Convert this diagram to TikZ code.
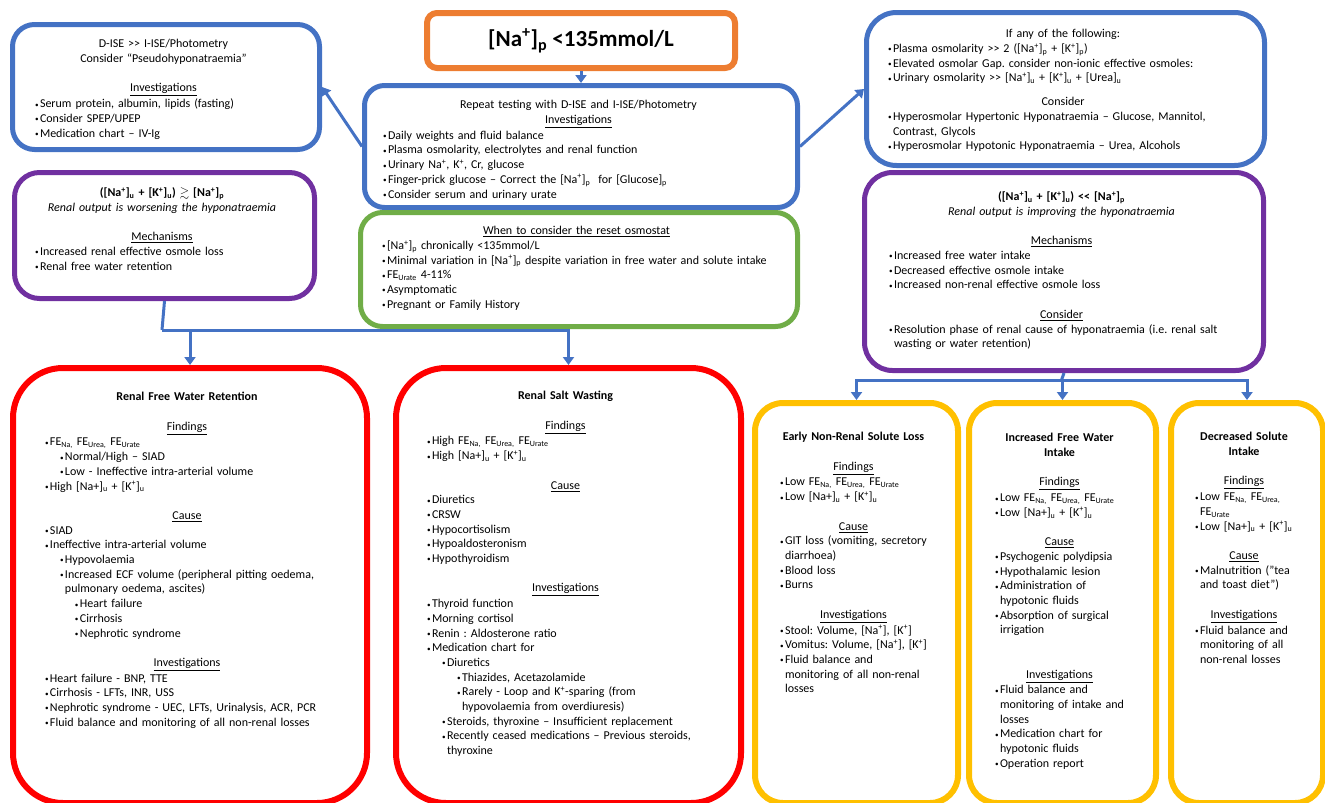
\documentclass[tikz,border=0pt]{standalone}
\usepackage{fontspec}
\setmainfont{Carlito}
\usepackage{amssymb}
\usepackage{graphicx}
\usetikzlibrary{arrows.meta}
\definecolor{boxblue}{HTML}{4472C4}
\definecolor{boxorange}{HTML}{ED7D31}
\definecolor{boxpurple}{HTML}{7030A0}
\definecolor{boxgreen}{HTML}{70AD47}
\definecolor{boxred}{HTML}{FF0000}
\definecolor{boxyellow}{HTML}{FFC000}
\newcommand{\sod}{[Na\textsuperscript{+}]}
\newcommand{\pot}{[K\textsuperscript{+}]}
\newcommand{\mgt}{>\kern0pt>}
\newcommand{\mlt}{<\kern0pt<}
\newcommand{\bul}{\makebox[5pt][l]{\raisebox{0.6pt}{\scalebox{0.6}{•}}}}
\newcommand{\itm}[2][0pt]{{\raggedright\rightskip=-12pt plus 1fil\leftskip=#1\hangindent=5pt\hangafter=1\noindent\strut\bul#2\par}}
\newcommand{\hdg}[1]{{\centering\strut\underline{#1}\par}}
\newcommand{\ctr}[1]{{\centering\strut #1\par}}
\newcommand{\ttl}[1]{{\centering\bfseries\strut #1\par}}
\newcommand{\gap}[1][14.7pt]{\vspace{#1}}
\begin{document}
\begin{tikzpicture}[x=1pt,y=-1pt,
  frame/.style={draw, line width=5pt, anchor=north west, inner sep=0pt},
  txt/.style={anchor=north, inner sep=0pt, text width=#1, font=\fontsize{12}{14.7}\selectfont\frenchspacing},
  conn/.style={draw=boxblue, line width=3pt, -{Triangle[length=8pt,width=11pt]}},
  link/.style={draw=boxblue, line width=3pt}]
  \useasboundingbox (0,0) rectangle (1325,803);

  \node[frame, draw=boxorange, line width=6pt, rounded corners=10pt, minimum width=308pt, minimum height=55pt,
        font=\fontsize{23}{28}\selectfont\bfseries] (na) at (424,10) {[Na\textsuperscript{+}]\textsubscript{p} <135mmol/L};

  \node[frame, draw=boxblue, rounded corners=22pt, minimum width=307pt, minimum height=125pt] (pseudo) at (10,22) {};
  \node[txt=257pt] (pseudo-t) at (163.5,37.3) {%
    \ctr{D-ISE \mgt{} I-ISE/Photometry}
    \ctr{Consider “Pseudohyponatraemia”}
    \gap
    \hdg{Investigations}
    \itm{Serum protein, albumin, lipids (fasting)}
    \itm{Consider SPEP/UPEP}
    \itm{Medication chart – IV-Ig}};

  \node[frame, draw=boxblue, rounded corners=20pt, minimum width=433pt, minimum height=122pt] (rpt) at (362,83) {};
  \node[txt=391pt] (rpt-t) at (578.5,98.3) {%
    \ctr{Repeat testing with D-ISE and I-ISE/Photometry}
    \hdg{Investigations}
    \itm{Daily weights and fluid balance}
    \itm{Plasma osmolarity, electrolytes and renal function}
    \itm{Urinary Na\textsuperscript{+}, K\textsuperscript{+}, Cr, glucose}
    \itm{Finger-prick glucose – Correct the \sod\textsubscript{p}\ \ for [Glucose]\textsubscript{p}}
    \itm{Consider serum and urinary urate}};

  \node[frame, draw=boxblue, rounded corners=30pt, minimum width=398pt, minimum height=153pt] (hyper) at (864,10) {};
  \node[txt=350pt] (hyper-t) at (1063,27.3) {%
    \ctr{If any of the following:}
    \itm{Plasma osmolarity \mgt{} 2 (\sod\textsubscript{p} + \pot\textsubscript{p})}
    \itm{Elevated osmolar Gap. consider non-ionic effective osmoles:}
    \itm{Urinary osmolarity \mgt{} \sod\textsubscript{u} + \pot\textsubscript{u} + [Urea]\textsubscript{u}}
    \gap[9.3pt]
    \ctr{Consider}
    \itm{Hyperosmolar Hypertonic Hyponatraemia – Glucose, Mannitol,\newline Contrast, Glycols}
    \itm{Hyperosmolar Hypotonic Hyponatraemia – Urea, Alcohols}};

  \node[frame, draw=boxpurple, rounded corners=25pt, minimum width=300pt, minimum height=126pt] (worse) at (12,170) {};
  \node[txt=254pt] (worse-t) at (162,186.3) {%
    \ttl{(\sod\textsubscript{u} + \pot\textsubscript{u}) $\gtrsim$ \sod\textsubscript{p}}
    \ctr{\itshape Renal output is worsening the hyponatraemia}
    \gap
    \hdg{Mechanisms}
    \itm{Increased renal effective osmole loss}
    \itm{Renal free water retention}};

  \node[frame, draw=boxgreen, rounded corners=22pt, minimum width=437pt, minimum height=114pt] (reset) at (358,210) {};
  \node[txt=389pt] (reset-t) at (576.5,224.3) {%
    \hdg{When to consider the reset osmostat}
    \itm{\sod\textsubscript{p} chronically <135mmol/L}
    \itm{Minimal variation in \sod\textsubscript{p} despite variation in free water and solute intake}
    \itm{FE\textsubscript{Urate} 4-11\%}
    \itm{Asymptomatic}
    \itm{Pregnant or Family History}};

  \node[frame, draw=boxpurple, rounded corners=28pt, minimum width=399pt, minimum height=198pt] (improve) at (862,170) {};
  \node[txt=345pt] (improve-t) at (1061.5,190.3) {%
    \ttl{(\sod\textsubscript{u} + \pot\textsubscript{u}) \mlt{} \sod\textsubscript{p}}
    \ctr{\itshape Renal output is improving the hyponatraemia}
    \gap
    \hdg{Mechanisms}
    \itm{Increased free water intake}
    \itm{Decreased effective osmole intake}
    \itm{Increased non-renal effective osmole loss}
    \gap
    \hdg{Consider}
    \itm{Resolution phase of renal cause of hyponatraemia (i.e. renal salt\newline wasting or water retention)}};

  \node[frame, draw=boxred, line width=6pt, rounded corners=50pt, minimum width=354pt, minimum height=435pt] (rfwr) at (10,365) {};
  \node[txt=284pt] (rfwr-t) at (187,390.3) {%
    \ttl{Renal Free Water Retention}
    \gap
    \hdg{Findings}
    \itm{FE\textsubscript{Na,} FE\textsubscript{Urea,} FE\textsubscript{Urate}}
    \itm[15pt]{Normal/High – SIAD}
    \itm[15pt]{Low - Ineffective intra-arterial volume}
    \itm{High [Na+]\textsubscript{u} + \pot\textsubscript{u}}
    \gap
    \hdg{Cause}
    \itm{SIAD}
    \itm{Ineffective intra-arterial volume}
    \itm[15pt]{Hypovolaemia}
    \itm[15pt]{Increased ECF volume (peripheral pitting oedema,\newline pulmonary oedema, ascites)}
    \itm[30pt]{Heart failure}
    \itm[30pt]{Cirrhosis}
    \itm[30pt]{Nephrotic syndrome}
    \gap
    \hdg{Investigations}
    \itm{Heart failure - BNP, TTE}
    \itm{Cirrhosis - LFTs, INR, USS}
    \itm{Nephrotic syndrome - UEC, LFTs, Urinalysis, ACR, PCR}
    \itm{Fluid balance and monitoring of all non-renal losses}};

  \node[frame, draw=boxred, line width=6pt, rounded corners=50pt, minimum width=345pt, minimum height=435pt] (rsw) at (393,365) {};
  \node[txt=277pt] (rsw-t) at (565.5,389.3) {%
    \ttl{Renal Salt Wasting}
    \gap
    \hdg{Findings}
    \itm{High FE\textsubscript{Na,} FE\textsubscript{Urea,} FE\textsubscript{Urate}}
    \itm{High [Na+]\textsubscript{u} + \pot\textsubscript{u}}
    \gap
    \hdg{Cause}
    \itm{Diuretics}
    \itm{CRSW}
    \itm{Hypocortisolism}
    \itm{Hypoaldosteronism}
    \itm{Hypothyroidism}
    \gap
    \hdg{Investigations}
    \itm{Thyroid function}
    \itm{Morning cortisol}
    \itm{Renin : Aldosterone ratio}
    \itm{Medication chart for}
    \itm[15pt]{Diuretics}
    \itm[30pt]{Thiazides, Acetazolamide}
    \itm[30pt]{Rarely - Loop and K\textsuperscript{+}-sparing (from\newline hypovolaemia from overdiuresis)}
    \itm[15pt]{Steroids, thyroxine – Insufficient replacement}
    \itm[15pt]{Recently ceased medications – Previous steroids,\newline thyroxine}};

  \node[frame, draw=boxyellow, line width=6pt, rounded corners=28pt, minimum width=203pt, minimum height=400pt] (nrsl) at (752,400) {};
  \node[txt=147pt] (nrsl-t) at (853.5,430.3) {%
    \ttl{Early Non-Renal Solute Loss}
    \gap
    \hdg{Findings}
    \itm{Low FE\textsubscript{Na,} FE\textsubscript{Urea,} FE\textsubscript{Urate}}
    \itm{Low [Na+]\textsubscript{u} + \pot\textsubscript{u}}
    \gap
    \hdg{Cause}
    \itm{GIT loss (vomiting, secretory\newline diarrhoea)}
    \itm{Blood loss}
    \itm{Burns}
    \gap
    \hdg{Investigations}
    \itm{Stool: Volume, \sod, \pot}
    \itm{Vomitus: Volume, \sod, \pot}
    \itm{Fluid balance and\newline monitoring of all non-renal\newline losses}};

  \node[frame, draw=boxyellow, line width=6pt, rounded corners=28pt, minimum width=187pt, minimum height=400pt] (fwi) at (966,400) {};
  \node[txt=129pt] (fwi-t) at (1059.5,431.3) {%
    \ttl{Increased Free Water\\Intake}
    \gap
    \hdg{Findings}
    \itm{Low FE\textsubscript{Na,} FE\textsubscript{Urea,} FE\textsubscript{Urate}}
    \itm{Low [Na+]\textsubscript{u} + \pot\textsubscript{u}}
    \gap
    \hdg{Cause}
    \itm{Psychogenic polydipsia}
    \itm{Hypothalamic lesion}
    \itm{Administration of\newline hypotonic fluids}
    \itm{Absorption of surgical\newline irrigation}
    \gap[29.4pt]
    \hdg{Investigations}
    \itm{Fluid balance and\newline monitoring of intake and\newline losses}
    \itm{Medication chart for\newline hypotonic fluids}
    \itm{Operation report}};

  \node[frame, draw=boxyellow, line width=6pt, rounded corners=28pt, minimum width=152pt, minimum height=400pt] (dsi) at (1168,400) {};
  \node[txt=98pt] (dsi-t) at (1244,430.3) {%
    \ttl{Decreased Solute\\Intake}
    \gap
    \hdg{Findings}
    \itm{Low FE\textsubscript{Na,} FE\textsubscript{Urea,}\newline FE\textsubscript{Urate}}
    \itm{Low [Na+]\textsubscript{u} + \pot\textsubscript{u}}
    \gap
    \hdg{Cause}
    \itm{Malnutrition (”tea\newline and toast diet”)}
    \gap
    \hdg{Investigations}
    \itm{Fluid balance and\newline monitoring of all\newline non-renal losses}};

  \draw[conn] (na.south) -- (rpt.north);
  \draw[conn] (rpt.west) -- (pseudo.east);
  \draw[conn] (rpt.east) -- (hyper.west);

  \coordinate (lsplit) at (162,330);
  \draw[link] (worse.south) -- (lsplit);
  \draw[conn] (lsplit) -| (rfwr.north);
  \draw[conn] (lsplit) -| (rsw.north);

  \coordinate (rsplit) at (1061.5,380);
  \draw[link] (improve.south) -- (rsplit);
  \draw[conn] (rsplit) -| (nrsl.north);
  \draw[conn] (rsplit) -| (fwi.north);
  \draw[conn] (rsplit) -| (dsi.north);
\end{tikzpicture}
\end{document}
